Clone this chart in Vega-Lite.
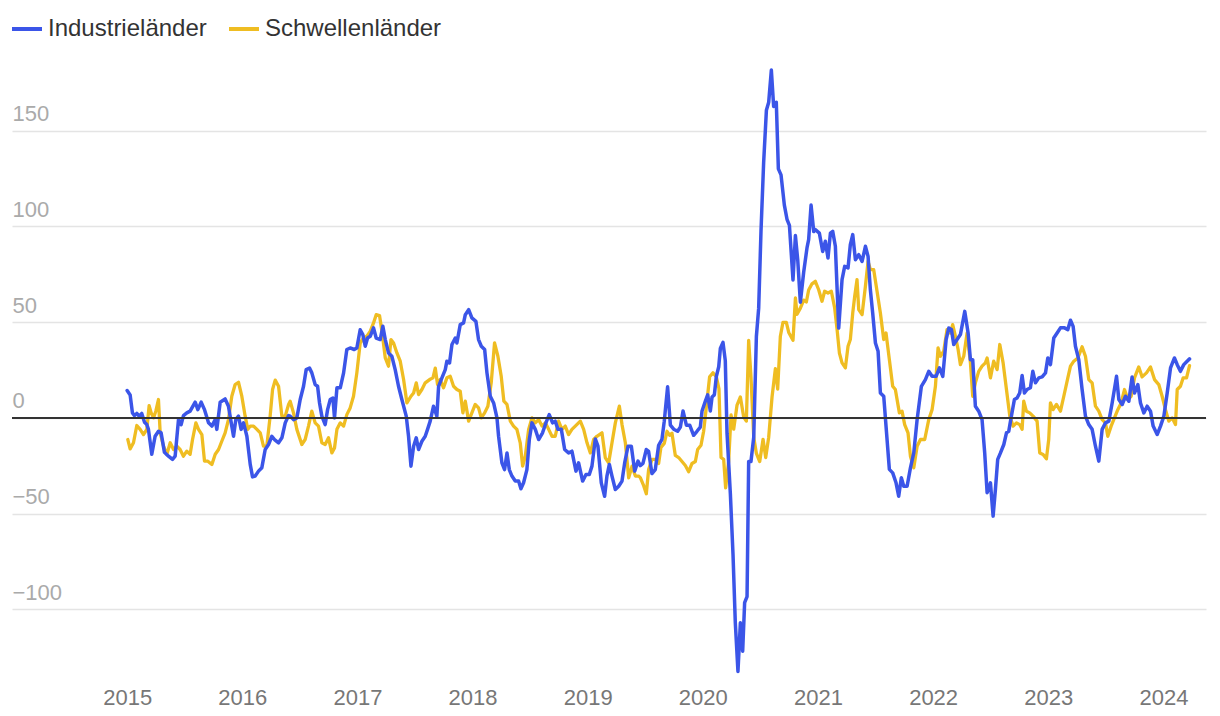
{
  "$schema": "https://vega.github.io/schema/vega-lite/v6.json",
  "width": 1194,
  "height": 632,
  "autosize": {"type": "none"},
  "padding": {"left": 12, "top": 54, "right": 14, "bottom": 30},
  "background": "white",
  "config": {"view": {"stroke": null}, "font": "Liberation Sans"},
  "datasets": {
    "industrielaender": [
      {"jahr": 2015.000, "wert": 14.3}, {"jahr": 2015.026, "wert": 12}, {"jahr": 2015.046, "wert": 2.6}, {"jahr": 2015.064, "wert": 1.2},
      {"jahr": 2015.084, "wert": 2.3}, {"jahr": 2015.104, "wert": 0.9}, {"jahr": 2015.127, "wert": 2.3}, {"jahr": 2015.151, "wert": -2.3},
      {"jahr": 2015.171, "wert": -3.5}, {"jahr": 2015.185, "wert": -6}, {"jahr": 2015.214, "wert": -19}, {"jahr": 2015.243, "wert": -9.6},
      {"jahr": 2015.272, "wert": -7}, {"jahr": 2015.295, "wert": -7.8}, {"jahr": 2015.324, "wert": -18}, {"jahr": 2015.359, "wert": -20},
      {"jahr": 2015.394, "wert": -21.7}, {"jahr": 2015.417, "wert": -20}, {"jahr": 2015.446, "wert": -0.9}, {"jahr": 2015.469, "wert": -3.5},
      {"jahr": 2015.489, "wert": 1.2}, {"jahr": 2015.518, "wert": 2.6}, {"jahr": 2015.547, "wert": 3.5}, {"jahr": 2015.591, "wert": 8.2},
      {"jahr": 2015.614, "wert": 4.3}, {"jahr": 2015.643, "wert": 8.2}, {"jahr": 2015.672, "wert": 4.3}, {"jahr": 2015.707, "wert": -2.6},
      {"jahr": 2015.736, "wert": -4.3}, {"jahr": 2015.765, "wert": -0.9}, {"jahr": 2015.779, "wert": -6}, {"jahr": 2015.808, "wert": 8.2},
      {"jahr": 2015.851, "wert": 9.9}, {"jahr": 2015.880, "wert": 6.1}, {"jahr": 2015.909, "wert": -4.3}, {"jahr": 2015.924, "wert": -9.6},
      {"jahr": 2015.944, "wert": -0.9}, {"jahr": 2015.967, "wert": 0.9}, {"jahr": 2015.990, "wert": -6}, {"jahr": 2016.011, "wert": -2.6},
      {"jahr": 2016.040, "wert": -9.6}, {"jahr": 2016.069, "wert": -24.3}, {"jahr": 2016.089, "wert": -30.8}, {"jahr": 2016.112, "wert": -30.4},
      {"jahr": 2016.141, "wert": -27.8}, {"jahr": 2016.170, "wert": -26}, {"jahr": 2016.199, "wert": -16.5}, {"jahr": 2016.228, "wert": -13.9},
      {"jahr": 2016.257, "wert": -9.6}, {"jahr": 2016.280, "wert": -11.3}, {"jahr": 2016.315, "wert": -13}, {"jahr": 2016.344, "wert": -10.4},
      {"jahr": 2016.373, "wert": -2.6}, {"jahr": 2016.402, "wert": 1.2}, {"jahr": 2016.416, "wert": 0.9}, {"jahr": 2016.445, "wert": -0.9},
      {"jahr": 2016.474, "wert": 0}, {"jahr": 2016.503, "wert": 9.6}, {"jahr": 2016.532, "wert": 16.5}, {"jahr": 2016.555, "wert": 25.2},
      {"jahr": 2016.584, "wert": 26}, {"jahr": 2016.604, "wert": 23.5}, {"jahr": 2016.633, "wert": 17.4}, {"jahr": 2016.654, "wert": 16.5},
      {"jahr": 2016.671, "wert": 7.8}, {"jahr": 2016.691, "wert": 0.9}, {"jahr": 2016.720, "wert": -3.5}, {"jahr": 2016.741, "wert": 4.3},
      {"jahr": 2016.764, "wert": 9.6}, {"jahr": 2016.787, "wert": 10.4}, {"jahr": 2016.801, "wert": 0}, {"jahr": 2016.822, "wert": 15.7},
      {"jahr": 2016.851, "wert": 15.7}, {"jahr": 2016.880, "wert": 23.5}, {"jahr": 2016.908, "wert": 35.7}, {"jahr": 2016.937, "wert": 36.5},
      {"jahr": 2016.972, "wert": 35.7}, {"jahr": 2016.995, "wert": 36.5}, {"jahr": 2017.024, "wert": 46}, {"jahr": 2017.047, "wert": 43.5},
      {"jahr": 2017.068, "wert": 37.4}, {"jahr": 2017.088, "wert": 41.7}, {"jahr": 2017.111, "wert": 42.6}, {"jahr": 2017.140, "wert": 47},
      {"jahr": 2017.163, "wert": 41.7}, {"jahr": 2017.198, "wert": 40.9}, {"jahr": 2017.221, "wert": 47.8}, {"jahr": 2017.242, "wert": 40.9},
      {"jahr": 2017.270, "wert": 33.9}, {"jahr": 2017.299, "wert": 32.2}, {"jahr": 2017.328, "wert": 25.2}, {"jahr": 2017.357, "wert": 16.5},
      {"jahr": 2017.386, "wert": 9.6}, {"jahr": 2017.424, "wert": 0.9}, {"jahr": 2017.444, "wert": -9.6}, {"jahr": 2017.465, "wert": -25.2},
      {"jahr": 2017.488, "wert": -14.8}, {"jahr": 2017.511, "wert": -10.4}, {"jahr": 2017.531, "wert": -16.5}, {"jahr": 2017.560, "wert": -12.2},
      {"jahr": 2017.589, "wert": -9.6}, {"jahr": 2017.609, "wert": -6}, {"jahr": 2017.632, "wert": -1.7}, {"jahr": 2017.661, "wert": 6.1},
      {"jahr": 2017.690, "wert": 0.9}, {"jahr": 2017.705, "wert": 16.5}, {"jahr": 2017.734, "wert": 20.9}, {"jahr": 2017.763, "wert": 25.2},
      {"jahr": 2017.777, "wert": 29.6}, {"jahr": 2017.800, "wert": 28.7}, {"jahr": 2017.821, "wert": 38.3}, {"jahr": 2017.850, "wert": 41.7},
      {"jahr": 2017.864, "wert": 39.1}, {"jahr": 2017.893, "wert": 48.7}, {"jahr": 2017.922, "wert": 49.6}, {"jahr": 2017.937, "wert": 53.9},
      {"jahr": 2017.966, "wert": 56.5}, {"jahr": 2017.994, "wert": 52.2}, {"jahr": 2018.029, "wert": 50.4}, {"jahr": 2018.052, "wert": 40.9},
      {"jahr": 2018.076, "wert": 37.4}, {"jahr": 2018.105, "wert": 35.7}, {"jahr": 2018.125, "wert": 23.5}, {"jahr": 2018.154, "wert": 11.3},
      {"jahr": 2018.183, "wert": 7.8}, {"jahr": 2018.212, "wert": 0}, {"jahr": 2018.226, "wert": -9.6}, {"jahr": 2018.255, "wert": -23.5},
      {"jahr": 2018.278, "wert": -27}, {"jahr": 2018.299, "wert": -18.3}, {"jahr": 2018.319, "wert": -27}, {"jahr": 2018.342, "wert": -30.4},
      {"jahr": 2018.371, "wert": -33}, {"jahr": 2018.400, "wert": -33}, {"jahr": 2018.420, "wert": -37}, {"jahr": 2018.443, "wert": -33.9},
      {"jahr": 2018.472, "wert": -27}, {"jahr": 2018.493, "wert": -11.3}, {"jahr": 2018.516, "wert": -2.6}, {"jahr": 2018.545, "wert": -6},
      {"jahr": 2018.574, "wert": -11.3}, {"jahr": 2018.608, "wert": -7.8}, {"jahr": 2018.637, "wert": -2.6}, {"jahr": 2018.666, "wert": 1.7},
      {"jahr": 2018.695, "wert": -2.6}, {"jahr": 2018.718, "wert": -1.7}, {"jahr": 2018.742, "wert": -6}, {"jahr": 2018.771, "wert": -6},
      {"jahr": 2018.800, "wert": -16.5}, {"jahr": 2018.834, "wert": -18.3}, {"jahr": 2018.863, "wert": -17.4}, {"jahr": 2018.898, "wert": -27.8},
      {"jahr": 2018.921, "wert": -23.5}, {"jahr": 2018.956, "wert": -33}, {"jahr": 2018.985, "wert": -29.6}, {"jahr": 2019.014, "wert": -29.6},
      {"jahr": 2019.037, "wert": -25.2}, {"jahr": 2019.066, "wert": -11}, {"jahr": 2019.089, "wert": -14.8}, {"jahr": 2019.118, "wert": -33.9},
      {"jahr": 2019.147, "wert": -40.9}, {"jahr": 2019.167, "wert": -30.4}, {"jahr": 2019.188, "wert": -24.3}, {"jahr": 2019.211, "wert": -30.4},
      {"jahr": 2019.240, "wert": -37.4}, {"jahr": 2019.269, "wert": -35.7}, {"jahr": 2019.298, "wert": -33}, {"jahr": 2019.321, "wert": -23.5},
      {"jahr": 2019.350, "wert": -14.8}, {"jahr": 2019.379, "wert": -14.8}, {"jahr": 2019.408, "wert": -27.8}, {"jahr": 2019.437, "wert": -22.6},
      {"jahr": 2019.457, "wert": -24.9}, {"jahr": 2019.480, "wert": -23.8}, {"jahr": 2019.509, "wert": -16.5}, {"jahr": 2019.529, "wert": -17.5},
      {"jahr": 2019.558, "wert": -29.1}, {"jahr": 2019.587, "wert": -27}, {"jahr": 2019.616, "wert": -14.3}, {"jahr": 2019.645, "wert": -11.2},
      {"jahr": 2019.665, "wert": -1.7}, {"jahr": 2019.694, "wert": 16.2}, {"jahr": 2019.718, "wert": -3.8}, {"jahr": 2019.747, "wert": -5.9},
      {"jahr": 2019.781, "wert": -7}, {"jahr": 2019.805, "wert": -4.8}, {"jahr": 2019.828, "wert": 3.6}, {"jahr": 2019.857, "wert": -3.8},
      {"jahr": 2019.886, "wert": -3.8}, {"jahr": 2019.920, "wert": -9.1}, {"jahr": 2019.949, "wert": -7}, {"jahr": 2019.978, "wert": -4.8},
      {"jahr": 2019.993, "wert": 3.6}, {"jahr": 2020.022, "wert": 8.8}, {"jahr": 2020.042, "wert": 12}, {"jahr": 2020.065, "wert": 3.6},
      {"jahr": 2020.080, "wert": 10.9}, {"jahr": 2020.100, "wert": 12}, {"jahr": 2020.117, "wert": 21.5}, {"jahr": 2020.138, "wert": 26.7},
      {"jahr": 2020.152, "wert": 36.2}, {"jahr": 2020.175, "wert": 39.4}, {"jahr": 2020.195, "wert": 29.9}, {"jahr": 2020.210, "wert": -8},
      {"jahr": 2020.239, "wert": -39.6}, {"jahr": 2020.262, "wert": -71.2}, {"jahr": 2020.282, "wert": -107}, {"jahr": 2020.305, "wert": -132.4},
      {"jahr": 2020.326, "wert": -107}, {"jahr": 2020.346, "wert": -121.8}, {"jahr": 2020.363, "wert": -96.5}, {"jahr": 2020.384, "wert": -93.3},
      {"jahr": 2020.398, "wert": -22.8}, {"jahr": 2020.418, "wert": -22.8}, {"jahr": 2020.442, "wert": -10.1}, {"jahr": 2020.465, "wert": 42.5},
      {"jahr": 2020.485, "wert": 57.3}, {"jahr": 2020.505, "wert": 97.3}, {"jahr": 2020.528, "wert": 133.2}, {"jahr": 2020.552, "wert": 160.6},
      {"jahr": 2020.572, "wert": 164.8}, {"jahr": 2020.595, "wert": 181.6}, {"jahr": 2020.615, "wert": 162.6}, {"jahr": 2020.638, "wert": 164.8},
      {"jahr": 2020.656, "wert": 130}, {"jahr": 2020.679, "wert": 126.9}, {"jahr": 2020.708, "wert": 111.1}, {"jahr": 2020.731, "wert": 103.7},
      {"jahr": 2020.752, "wert": 100.5}, {"jahr": 2020.783, "wert": 72}, {"jahr": 2020.804, "wert": 95.2}, {"jahr": 2020.824, "wert": 82.6},
      {"jahr": 2020.847, "wert": 60.4}, {"jahr": 2020.876, "wert": 76.2}, {"jahr": 2020.905, "wert": 88.9}, {"jahr": 2020.919, "wert": 93.1},
      {"jahr": 2020.940, "wert": 111.1}, {"jahr": 2020.963, "wert": 97.3}, {"jahr": 2020.977, "wert": 98.3}, {"jahr": 2021.012, "wert": 96.5},
      {"jahr": 2021.041, "wert": 86.9}, {"jahr": 2021.064, "wert": 92.2}, {"jahr": 2021.087, "wert": 83.5}, {"jahr": 2021.108, "wert": 96.5},
      {"jahr": 2021.128, "wert": 97.4}, {"jahr": 2021.151, "wert": 89.6}, {"jahr": 2021.180, "wert": 46.9}, {"jahr": 2021.209, "wert": 72.2},
      {"jahr": 2021.232, "wert": 79.1}, {"jahr": 2021.261, "wert": 78.3}, {"jahr": 2021.281, "wert": 90.4}, {"jahr": 2021.302, "wert": 95.7},
      {"jahr": 2021.325, "wert": 82.6}, {"jahr": 2021.354, "wert": 85.2}, {"jahr": 2021.383, "wert": 81.7}, {"jahr": 2021.412, "wert": 89.6},
      {"jahr": 2021.435, "wert": 84.3}, {"jahr": 2021.455, "wert": 66.9}, {"jahr": 2021.475, "wert": 54.8}, {"jahr": 2021.499, "wert": 39.1},
      {"jahr": 2021.522, "wert": 34.8}, {"jahr": 2021.542, "wert": 13}, {"jahr": 2021.571, "wert": 11.3}, {"jahr": 2021.591, "wert": -4.3},
      {"jahr": 2021.620, "wert": -26.9}, {"jahr": 2021.649, "wert": -28.7}, {"jahr": 2021.678, "wert": -33.9}, {"jahr": 2021.701, "wert": -40.9},
      {"jahr": 2021.724, "wert": -31.3}, {"jahr": 2021.745, "wert": -35.7}, {"jahr": 2021.774, "wert": -35.7}, {"jahr": 2021.803, "wert": -26.1},
      {"jahr": 2021.832, "wert": -18.3}, {"jahr": 2021.861, "wert": -0.9}, {"jahr": 2021.898, "wert": 16.5}, {"jahr": 2021.933, "wert": 20},
      {"jahr": 2021.962, "wert": 24.3}, {"jahr": 2021.991, "wert": 21.7}, {"jahr": 2022.026, "wert": 21.7}, {"jahr": 2022.055, "wert": 26.1},
      {"jahr": 2022.084, "wert": 21.7}, {"jahr": 2022.113, "wert": 40.9}, {"jahr": 2022.136, "wert": 46.9}, {"jahr": 2022.159, "wert": 46.1},
      {"jahr": 2022.179, "wert": 38.3}, {"jahr": 2022.208, "wert": 40.9}, {"jahr": 2022.237, "wert": 43.5}, {"jahr": 2022.275, "wert": 55.6},
      {"jahr": 2022.304, "wert": 44.3}, {"jahr": 2022.324, "wert": 30.4}, {"jahr": 2022.344, "wert": 30.4}, {"jahr": 2022.367, "wert": 6.1},
      {"jahr": 2022.396, "wert": 3.5}, {"jahr": 2022.425, "wert": -0.9}, {"jahr": 2022.448, "wert": -18.3}, {"jahr": 2022.469, "wert": -39.1},
      {"jahr": 2022.489, "wert": -35.7}, {"jahr": 2022.498, "wert": -33.9}, {"jahr": 2022.521, "wert": -51.3}, {"jahr": 2022.541, "wert": -37.4},
      {"jahr": 2022.561, "wert": -21.7}, {"jahr": 2022.585, "wert": -18.3}, {"jahr": 2022.614, "wert": -13.9}, {"jahr": 2022.637, "wert": -7.8},
      {"jahr": 2022.657, "wert": -7}, {"jahr": 2022.677, "wert": 0}, {"jahr": 2022.706, "wert": 9.6}, {"jahr": 2022.729, "wert": 10.4},
      {"jahr": 2022.752, "wert": 13}, {"jahr": 2022.773, "wert": 22.1}, {"jahr": 2022.793, "wert": 13}, {"jahr": 2022.816, "wert": 14.8},
      {"jahr": 2022.845, "wert": 15.7}, {"jahr": 2022.866, "wert": 24.3}, {"jahr": 2022.889, "wert": 18.3}, {"jahr": 2022.918, "wert": 20.9},
      {"jahr": 2022.947, "wert": 21.4}, {"jahr": 2022.976, "wert": 23.5}, {"jahr": 2022.996, "wert": 31.3}, {"jahr": 2023.019, "wert": 27.8},
      {"jahr": 2023.048, "wert": 41.7}, {"jahr": 2023.077, "wert": 44.3}, {"jahr": 2023.106, "wert": 47}, {"jahr": 2023.141, "wert": 47},
      {"jahr": 2023.170, "wert": 46.1}, {"jahr": 2023.193, "wert": 51}, {"jahr": 2023.216, "wert": 47.8}, {"jahr": 2023.236, "wert": 37.4},
      {"jahr": 2023.265, "wert": 30.4}, {"jahr": 2023.294, "wert": 14.8}, {"jahr": 2023.323, "wert": 0.9}, {"jahr": 2023.352, "wert": -3.5},
      {"jahr": 2023.381, "wert": -6}, {"jahr": 2023.410, "wert": -14.8}, {"jahr": 2023.439, "wert": -22.6}, {"jahr": 2023.468, "wert": -6},
      {"jahr": 2023.497, "wert": -2.6}, {"jahr": 2023.526, "wert": -1.7}, {"jahr": 2023.555, "wert": 7.8}, {"jahr": 2023.593, "wert": 21.7},
      {"jahr": 2023.613, "wert": 9.6}, {"jahr": 2023.642, "wert": 7}, {"jahr": 2023.671, "wert": 11.3}, {"jahr": 2023.700, "wert": 8.7},
      {"jahr": 2023.728, "wert": 21.4}, {"jahr": 2023.749, "wert": 13}, {"jahr": 2023.778, "wert": 17.4}, {"jahr": 2023.801, "wert": 7.8},
      {"jahr": 2023.830, "wert": 2.6}, {"jahr": 2023.859, "wert": 6.1}, {"jahr": 2023.888, "wert": 3.5}, {"jahr": 2023.911, "wert": -4.3},
      {"jahr": 2023.946, "wert": -8.7}, {"jahr": 2023.975, "wert": -4.3}, {"jahr": 2024.004, "wert": 0.9}, {"jahr": 2024.033, "wert": 13},
      {"jahr": 2024.062, "wert": 26.1}, {"jahr": 2024.096, "wert": 31.3}, {"jahr": 2024.120, "wert": 27.8}, {"jahr": 2024.148, "wert": 24.3},
      {"jahr": 2024.177, "wert": 27.8}, {"jahr": 2024.206, "wert": 29.6}, {"jahr": 2024.227, "wert": 30.8}
    ],
    "schwellenlaender": [
      {"jahr": 2015.006, "wert": -11.3}, {"jahr": 2015.026, "wert": -16.2}, {"jahr": 2015.055, "wert": -13}, {"jahr": 2015.084, "wert": -4},
      {"jahr": 2015.113, "wert": -6}, {"jahr": 2015.142, "wert": -8.7}, {"jahr": 2015.171, "wert": -6}, {"jahr": 2015.191, "wert": 6.4},
      {"jahr": 2015.209, "wert": 2.6}, {"jahr": 2015.229, "wert": 0}, {"jahr": 2015.249, "wert": 3.5}, {"jahr": 2015.272, "wert": 9.6},
      {"jahr": 2015.287, "wert": -7.8}, {"jahr": 2015.316, "wert": -14.8}, {"jahr": 2015.345, "wert": -19}, {"jahr": 2015.374, "wert": -13},
      {"jahr": 2015.403, "wert": -16.5}, {"jahr": 2015.432, "wert": -14.8}, {"jahr": 2015.460, "wert": -16.5}, {"jahr": 2015.489, "wert": -20},
      {"jahr": 2015.518, "wert": -17.4}, {"jahr": 2015.547, "wert": -19}, {"jahr": 2015.568, "wert": -11.3}, {"jahr": 2015.597, "wert": -2.6},
      {"jahr": 2015.620, "wert": -6}, {"jahr": 2015.649, "wert": -8.7}, {"jahr": 2015.672, "wert": -22.6}, {"jahr": 2015.701, "wert": -22.6},
      {"jahr": 2015.736, "wert": -24.3}, {"jahr": 2015.765, "wert": -19}, {"jahr": 2015.794, "wert": -16.5}, {"jahr": 2015.822, "wert": -12.2},
      {"jahr": 2015.851, "wert": -7.8}, {"jahr": 2015.880, "wert": -0.9}, {"jahr": 2015.909, "wert": 11.3}, {"jahr": 2015.938, "wert": 17.4},
      {"jahr": 2015.967, "wert": 18.6}, {"jahr": 2015.996, "wert": 11.3}, {"jahr": 2016.025, "wert": 0.9}, {"jahr": 2016.048, "wert": -6},
      {"jahr": 2016.069, "wert": -4.3}, {"jahr": 2016.098, "wert": -4.3}, {"jahr": 2016.127, "wert": -6}, {"jahr": 2016.156, "wert": -7.8},
      {"jahr": 2016.184, "wert": -14.8}, {"jahr": 2016.213, "wert": -14.8}, {"jahr": 2016.242, "wert": 0.9}, {"jahr": 2016.263, "wert": 14.8},
      {"jahr": 2016.286, "wert": 19.7}, {"jahr": 2016.315, "wert": 16.5}, {"jahr": 2016.344, "wert": 0.9}, {"jahr": 2016.373, "wert": 0.9},
      {"jahr": 2016.402, "wert": 7}, {"jahr": 2016.416, "wert": 8.7}, {"jahr": 2016.445, "wert": 2.6}, {"jahr": 2016.474, "wert": -6},
      {"jahr": 2016.517, "wert": -13.9}, {"jahr": 2016.546, "wert": -11.3}, {"jahr": 2016.575, "wert": -4.3}, {"jahr": 2016.604, "wert": 3.5},
      {"jahr": 2016.633, "wert": -2.6}, {"jahr": 2016.662, "wert": -4.3}, {"jahr": 2016.691, "wert": -13}, {"jahr": 2016.720, "wert": -13.9},
      {"jahr": 2016.749, "wert": -10.4}, {"jahr": 2016.778, "wert": -18.3}, {"jahr": 2016.801, "wert": -15.7}, {"jahr": 2016.822, "wert": -6},
      {"jahr": 2016.851, "wert": -2.6}, {"jahr": 2016.880, "wert": -4.3}, {"jahr": 2016.908, "wert": 1.7}, {"jahr": 2016.937, "wert": 5.2},
      {"jahr": 2016.966, "wert": 11.3}, {"jahr": 2016.995, "wert": 23.5}, {"jahr": 2017.024, "wert": 39.1}, {"jahr": 2017.053, "wert": 41.7},
      {"jahr": 2017.082, "wert": 42.6}, {"jahr": 2017.111, "wert": 45.2}, {"jahr": 2017.140, "wert": 49.6}, {"jahr": 2017.163, "wert": 53.9},
      {"jahr": 2017.192, "wert": 53.4}, {"jahr": 2017.213, "wert": 45.2}, {"jahr": 2017.242, "wert": 31.3}, {"jahr": 2017.270, "wert": 27},
      {"jahr": 2017.291, "wert": 40.9}, {"jahr": 2017.314, "wert": 39.1}, {"jahr": 2017.343, "wert": 33.9}, {"jahr": 2017.372, "wert": 29.6},
      {"jahr": 2017.401, "wert": 20}, {"jahr": 2017.430, "wert": 7.8}, {"jahr": 2017.465, "wert": 11.3}, {"jahr": 2017.488, "wert": 13},
      {"jahr": 2017.511, "wert": 18.3}, {"jahr": 2017.531, "wert": 12.2}, {"jahr": 2017.560, "wert": 14.8}, {"jahr": 2017.589, "wert": 18.3},
      {"jahr": 2017.627, "wert": 20}, {"jahr": 2017.656, "wert": 20.9}, {"jahr": 2017.676, "wert": 26}, {"jahr": 2017.696, "wert": 17.4},
      {"jahr": 2017.719, "wert": 20}, {"jahr": 2017.748, "wert": 15.7}, {"jahr": 2017.777, "wert": 20.9}, {"jahr": 2017.806, "wert": 21.7},
      {"jahr": 2017.835, "wert": 16.5}, {"jahr": 2017.864, "wert": 14.8}, {"jahr": 2017.893, "wert": 13.9}, {"jahr": 2017.916, "wert": 2.6},
      {"jahr": 2017.937, "wert": 8.7}, {"jahr": 2017.966, "wert": -1.7}, {"jahr": 2017.994, "wert": 2.6}, {"jahr": 2018.023, "wert": 7},
      {"jahr": 2018.052, "wert": 5.2}, {"jahr": 2018.076, "wert": 0}, {"jahr": 2018.105, "wert": 2.6}, {"jahr": 2018.133, "wert": 6.1},
      {"jahr": 2018.162, "wert": 18.3}, {"jahr": 2018.191, "wert": 39.1}, {"jahr": 2018.220, "wert": 32.2}, {"jahr": 2018.249, "wert": 21.7},
      {"jahr": 2018.272, "wert": 8.7}, {"jahr": 2018.299, "wert": 7}, {"jahr": 2018.328, "wert": -1.7}, {"jahr": 2018.356, "wert": -4.3},
      {"jahr": 2018.385, "wert": -6}, {"jahr": 2018.414, "wert": -13}, {"jahr": 2018.435, "wert": -25.2}, {"jahr": 2018.458, "wert": -20},
      {"jahr": 2018.487, "wert": -6}, {"jahr": 2018.516, "wert": 0}, {"jahr": 2018.545, "wert": -2.6}, {"jahr": 2018.574, "wert": -0.9},
      {"jahr": 2018.603, "wert": -4.3}, {"jahr": 2018.632, "wert": -2.6}, {"jahr": 2018.661, "wert": -6}, {"jahr": 2018.690, "wert": -9.6},
      {"jahr": 2018.718, "wert": -9.6}, {"jahr": 2018.747, "wert": -1.7}, {"jahr": 2018.776, "wert": -6}, {"jahr": 2018.805, "wert": -4.3},
      {"jahr": 2018.834, "wert": -8.7}, {"jahr": 2018.863, "wert": -6}, {"jahr": 2018.892, "wert": -4.3}, {"jahr": 2018.936, "wert": -1.7},
      {"jahr": 2018.965, "wert": -6}, {"jahr": 2018.994, "wert": -13}, {"jahr": 2019.023, "wert": -18.3}, {"jahr": 2019.052, "wert": -11.3},
      {"jahr": 2019.080, "wert": -9.6}, {"jahr": 2019.124, "wert": -7.8}, {"jahr": 2019.153, "wert": -20.9}, {"jahr": 2019.182, "wert": -23.5},
      {"jahr": 2019.211, "wert": -13}, {"jahr": 2019.240, "wert": -2.6}, {"jahr": 2019.275, "wert": 6.1}, {"jahr": 2019.298, "wert": -3.5},
      {"jahr": 2019.327, "wert": -13}, {"jahr": 2019.356, "wert": -31.3}, {"jahr": 2019.385, "wert": -25.2}, {"jahr": 2019.414, "wert": -30.4},
      {"jahr": 2019.442, "wert": -30.4}, {"jahr": 2019.457, "wert": -31.2}, {"jahr": 2019.486, "wert": -35.4}, {"jahr": 2019.509, "wert": -39.6},
      {"jahr": 2019.529, "wert": -27}, {"jahr": 2019.558, "wert": -21.7}, {"jahr": 2019.587, "wert": -21.7}, {"jahr": 2019.616, "wert": -23.8},
      {"jahr": 2019.636, "wert": -15.4}, {"jahr": 2019.665, "wert": -13.3}, {"jahr": 2019.689, "wert": -7}, {"jahr": 2019.712, "wert": -9.1},
      {"jahr": 2019.732, "wert": -8}, {"jahr": 2019.761, "wert": -19.6}, {"jahr": 2019.790, "wert": -20.7}, {"jahr": 2019.819, "wert": -22.8},
      {"jahr": 2019.848, "wert": -24.9}, {"jahr": 2019.877, "wert": -28.1}, {"jahr": 2019.906, "wert": -23.8}, {"jahr": 2019.935, "wert": -22.8},
      {"jahr": 2019.955, "wert": -16.5}, {"jahr": 2019.984, "wert": -14.3}, {"jahr": 2020.007, "wert": -7}, {"jahr": 2020.036, "wert": 8.8},
      {"jahr": 2020.059, "wert": 21.5}, {"jahr": 2020.088, "wert": 23.6}, {"jahr": 2020.117, "wert": 21.5}, {"jahr": 2020.140, "wert": 15.2},
      {"jahr": 2020.158, "wert": -20.7}, {"jahr": 2020.181, "wert": -21.7}, {"jahr": 2020.198, "wert": -36.5}, {"jahr": 2020.224, "wert": -22.8},
      {"jahr": 2020.245, "wert": 1.5}, {"jahr": 2020.268, "wert": -5.9}, {"jahr": 2020.297, "wert": 6.7}, {"jahr": 2020.326, "wert": 10.9},
      {"jahr": 2020.355, "wert": 0.4}, {"jahr": 2020.378, "wert": -1.7}, {"jahr": 2020.398, "wert": 40.5}, {"jahr": 2020.418, "wert": 21.5},
      {"jahr": 2020.442, "wert": -10.1}, {"jahr": 2020.465, "wert": -18.5}, {"jahr": 2020.494, "wert": -22.8}, {"jahr": 2020.523, "wert": -11.2},
      {"jahr": 2020.546, "wert": -20.7}, {"jahr": 2020.572, "wert": -10.1}, {"jahr": 2020.601, "wert": 10.9}, {"jahr": 2020.630, "wert": 25.7},
      {"jahr": 2020.650, "wert": 15}, {"jahr": 2020.673, "wert": 42.5}, {"jahr": 2020.696, "wert": 49.9}, {"jahr": 2020.725, "wert": 49.9},
      {"jahr": 2020.746, "wert": 44.6}, {"jahr": 2020.783, "wert": 40.5}, {"jahr": 2020.804, "wert": 62.6}, {"jahr": 2020.818, "wert": 54.1},
      {"jahr": 2020.847, "wert": 57.3}, {"jahr": 2020.876, "wert": 61.5}, {"jahr": 2020.899, "wert": 60.5}, {"jahr": 2020.919, "wert": 66.8},
      {"jahr": 2020.948, "wert": 70}, {"jahr": 2020.977, "wert": 71.3}, {"jahr": 2021.006, "wert": 66.9}, {"jahr": 2021.035, "wert": 60.9},
      {"jahr": 2021.058, "wert": 66.1}, {"jahr": 2021.087, "wert": 65.2}, {"jahr": 2021.116, "wert": 66.1}, {"jahr": 2021.145, "wert": 57.4},
      {"jahr": 2021.166, "wert": 46.1}, {"jahr": 2021.186, "wert": 33.9}, {"jahr": 2021.209, "wert": 28.7}, {"jahr": 2021.238, "wert": 26.1},
      {"jahr": 2021.261, "wert": 37.4}, {"jahr": 2021.281, "wert": 40.9}, {"jahr": 2021.302, "wert": 54.8}, {"jahr": 2021.319, "wert": 63.5},
      {"jahr": 2021.339, "wert": 72.2}, {"jahr": 2021.354, "wert": 56.5}, {"jahr": 2021.383, "wert": 53.9}, {"jahr": 2021.412, "wert": 68.7},
      {"jahr": 2021.435, "wert": 81.7}, {"jahr": 2021.455, "wert": 77.4}, {"jahr": 2021.484, "wert": 77.4}, {"jahr": 2021.513, "wert": 66.1},
      {"jahr": 2021.542, "wert": 54.8}, {"jahr": 2021.571, "wert": 40.9}, {"jahr": 2021.591, "wert": 44.3}, {"jahr": 2021.620, "wert": 30.4},
      {"jahr": 2021.649, "wert": 16.5}, {"jahr": 2021.672, "wert": 14.8}, {"jahr": 2021.707, "wert": 2.6}, {"jahr": 2021.730, "wert": 3.5},
      {"jahr": 2021.753, "wert": -3.5}, {"jahr": 2021.782, "wert": -7.8}, {"jahr": 2021.803, "wert": -20}, {"jahr": 2021.832, "wert": -26.1},
      {"jahr": 2021.861, "wert": -14.8}, {"jahr": 2021.890, "wert": -11.3}, {"jahr": 2021.927, "wert": -11.3}, {"jahr": 2021.962, "wert": -0.9},
      {"jahr": 2021.991, "wert": 4.3}, {"jahr": 2022.020, "wert": 16.5}, {"jahr": 2022.043, "wert": 36.5}, {"jahr": 2022.063, "wert": 32.2},
      {"jahr": 2022.092, "wert": 34.8}, {"jahr": 2022.121, "wert": 46.1}, {"jahr": 2022.150, "wert": 44.3}, {"jahr": 2022.170, "wert": 48.7},
      {"jahr": 2022.194, "wert": 42.6}, {"jahr": 2022.217, "wert": 35.7}, {"jahr": 2022.237, "wert": 27.8}, {"jahr": 2022.266, "wert": 32.2},
      {"jahr": 2022.295, "wert": 44.3}, {"jahr": 2022.324, "wert": 28.7}, {"jahr": 2022.344, "wert": 11.3}, {"jahr": 2022.367, "wert": 18.3},
      {"jahr": 2022.396, "wert": 24.3}, {"jahr": 2022.425, "wert": 27}, {"jahr": 2022.454, "wert": 28.7}, {"jahr": 2022.469, "wert": 31.3},
      {"jahr": 2022.498, "wert": 20.9}, {"jahr": 2022.526, "wert": 29.6}, {"jahr": 2022.556, "wert": 25.2}, {"jahr": 2022.579, "wert": 38.3},
      {"jahr": 2022.608, "wert": 28.7}, {"jahr": 2022.637, "wert": 14.8}, {"jahr": 2022.666, "wert": 0.9}, {"jahr": 2022.695, "wert": -4.3},
      {"jahr": 2022.724, "wert": -2.6}, {"jahr": 2022.752, "wert": -3.5}, {"jahr": 2022.773, "wert": -6}, {"jahr": 2022.787, "wert": 8.7},
      {"jahr": 2022.810, "wert": 3.5}, {"jahr": 2022.839, "wert": 2.6}, {"jahr": 2022.868, "wert": 0.9}, {"jahr": 2022.903, "wert": -1.7},
      {"jahr": 2022.926, "wert": -18.3}, {"jahr": 2022.955, "wert": -19.1}, {"jahr": 2022.984, "wert": -21.4}, {"jahr": 2023.004, "wert": -11.3},
      {"jahr": 2023.019, "wert": 7.8}, {"jahr": 2023.042, "wert": 4.3}, {"jahr": 2023.071, "wert": 7}, {"jahr": 2023.106, "wert": 3.5},
      {"jahr": 2023.135, "wert": 11.3}, {"jahr": 2023.170, "wert": 20.9}, {"jahr": 2023.193, "wert": 27}, {"jahr": 2023.222, "wert": 29.6},
      {"jahr": 2023.257, "wert": 31.3}, {"jahr": 2023.294, "wert": 37.1}, {"jahr": 2023.323, "wert": 32.2}, {"jahr": 2023.352, "wert": 20},
      {"jahr": 2023.381, "wert": 18.3}, {"jahr": 2023.410, "wert": 6.1}, {"jahr": 2023.439, "wert": 3.5}, {"jahr": 2023.468, "wert": -0.9},
      {"jahr": 2023.497, "wert": -2.6}, {"jahr": 2023.517, "wert": -9.6}, {"jahr": 2023.546, "wert": -4.3}, {"jahr": 2023.575, "wert": 0},
      {"jahr": 2023.604, "wert": 4.3}, {"jahr": 2023.633, "wert": 7.8}, {"jahr": 2023.662, "wert": 14.8}, {"jahr": 2023.691, "wert": 9.6},
      {"jahr": 2023.720, "wert": 11.3}, {"jahr": 2023.749, "wert": 20.9}, {"jahr": 2023.786, "wert": 26.6}, {"jahr": 2023.815, "wert": 21.4},
      {"jahr": 2023.853, "wert": 23.5}, {"jahr": 2023.888, "wert": 26.6}, {"jahr": 2023.923, "wert": 20}, {"jahr": 2023.960, "wert": 17.4},
      {"jahr": 2023.989, "wert": 11.3}, {"jahr": 2024.018, "wert": 4.3}, {"jahr": 2024.047, "wert": -1.7}, {"jahr": 2024.076, "wert": 0},
      {"jahr": 2024.105, "wert": -3.5}, {"jahr": 2024.120, "wert": 14.8}, {"jahr": 2024.148, "wert": 16.5}, {"jahr": 2024.172, "wert": 20.9},
      {"jahr": 2024.201, "wert": 20.9}, {"jahr": 2024.227, "wert": 27.3}
    ]
  },
  "layer": [
    {
      "data": {"name": "schwellenlaender"},
      "mark": {"type": "line", "strokeWidth": 3.3, "strokeJoin": "round", "strokeCap": "round"},
      "encoding": {
        "x": {"field": "jahr", "type": "quantitative", "scale": {"domain": [2014.0, 2024.37], "nice": false, "zero": false},
          "axis": {"values": [2015, 2016, 2017, 2018, 2019, 2020, 2021, 2022, 2023, 2024], "format": "d", "title": null, "grid": false, "domain": false, "ticks": false, "tickSize": 0, "labelFontSize": 22, "labelColor": "#777777", "labelPadding": 1, "labelFont": "Liberation Sans", "labelFlush": false}},
        "y": {"field": "wert", "type": "quantitative", "scale": {"domain": [-140, 190], "nice": false, "zero": false},
          "axis": {"values": [-100, -50, 0, 50, 100, 150], "title": null, "grid": true, "gridColor": "#e4e4e4", "gridWidth": 1.5, "domain": false, "ticks": false, "tickSize": 0, "labelAlign": "left", "labelBaseline": "alphabetic", "labelPadding": 0, "labelOffset": -10, "labelFontSize": 22, "labelColor": "#aaaaaa", "labelFont": "Liberation Sans"}},
        "color": {"datum": "Schwellenländer", "type": "nominal",
          "scale": {"domain": ["Industrieländer", "Schwellenländer"], "range": ["#3b55e8", "#efbd22"]},
          "legend": {"title": null, "orient": "none", "legendX": -2, "legendY": -42, "direction": "horizontal", "symbolType": "stroke", "symbolSize": 900, "symbolStrokeWidth": 4, "labelFontSize": 24, "labelColor": "#333333", "labelFont": "Liberation Sans", "labelOffset": 4, "labelLimit": 0, "columnPadding": 14, "padding": 0}}
      }
    },
    {
      "data": {"name": "industrielaender"},
      "mark": {"type": "line", "strokeWidth": 3.5, "strokeJoin": "round", "strokeCap": "round"},
      "encoding": {
        "x": {"field": "jahr", "type": "quantitative"},
        "y": {"field": "wert", "type": "quantitative"},
        "color": {"datum": "Industrieländer", "type": "nominal"}
      }
    },
    {
      "data": {"values": [{"wert": 0}]},
      "mark": {"type": "rule", "color": "#333333", "strokeWidth": 2},
      "encoding": {"y": {"field": "wert", "type": "quantitative"}}
    }
  ]
}
